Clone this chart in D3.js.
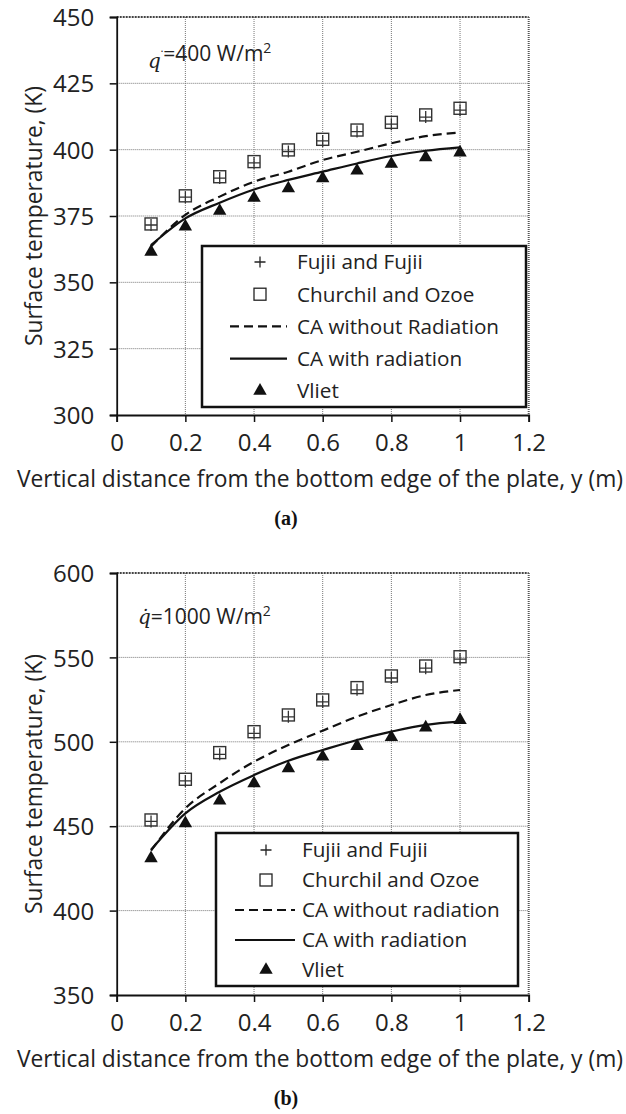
<!DOCTYPE html>
<html>
<head>
<meta charset="utf-8">
<script src="https://cdn.jsdelivr.net/npm/d3@7"></script>
<style>
body{margin:0;background:#fff;}
svg{display:block;font-family:"Open Sans",Lato,sans-serif;}
.grid line{stroke:#777;stroke-width:1;stroke-dasharray:1,1;}
</style>
</head>
<body>
<div id="canvas"></div>
<script>
// x positions along the plate (m)
var xPos = [0.1,0.2,0.3,0.4,0.5,0.6,0.7,0.8,0.9,1.0];
var xTicks = [0,0.2,0.4,0.6,0.8,1,1.2];

// panel (a), q = 400 W/m2
var yTicksA = [300,325,350,375,400,425,450];
var fujiiA = [371.6,382.1,389.3,395.0,399.3,403.3,406.8,409.6,412.3,414.9];
var churchilA = [372.0,382.6,389.8,395.5,399.9,403.9,407.4,410.3,413.1,415.6];
var caNoRadA = [363.5,375.4,382.3,387.9,391.7,396.1,399.2,402.4,405.1,406.5];
var caRadA = [364.0,374.1,380.0,385.0,388.6,391.7,394.8,397.6,399.6,400.9];
var vlietA = [361.5,371.0,376.9,381.8,385.4,389.2,392.1,394.6,397.1,398.9];
var legendA = ['Fujii and Fujii','Churchil and Ozoe','CA without Radiation','CA with radiation','Vliet'];

// panel (b), q = 1000 W/m2
var yTicksB = [350,400,450,500,550,600];
var fujiiB = [452.8,476.8,492.6,505.0,514.8,523.6,530.8,537.8,543.6,549.0];
var churchilB = [453.7,477.8,493.6,506.0,515.9,524.8,532.1,539.0,544.9,550.4];
var caNoRadB = [435.5,460.6,475.5,488.2,498.1,506.6,514.9,521.8,527.7,530.7];
var caRadB = [436.0,457.6,470.4,480.3,488.8,495.1,501.1,506.0,510.0,511.9];
var vlietB = [431.0,451.7,465.1,475.4,484.3,491.2,497.5,502.7,508.4,512.9];
var legendB = ['Fujii and Fujii','Churchil and Ozoe','CA without radiation','CA with radiation','Vliet'];

var W = 626, H = 1114;
var svg = d3.select('#canvas').append('svg')
    .attr('width',W)
    .attr('height',H);

var triPath = d3.symbol().type(d3.symbolTriangle).size(78)();
var crossPath = 'M-6,0H6M0,-6V6';
var tickFs = 24, titleFs = 22.8, legFs = 20.7;

function panel(o){
    var scaleX = d3.scaleLinear().domain([0,1.2]).range([o.l,o.r]);
    var scaleY = d3.scaleLinear().domain([o.yTicks[0],o.yTicks[o.yTicks.length-1]]).range([o.b,o.t]);
    var g = svg.append('g');

    // gridlines
    var grid = g.append('g').attr('class','grid');
    grid.selectAll('.gx').data(xTicks.slice(1,-1)).enter().append('line')
        .attr('x1',function(d){return scaleX(d);})
        .attr('x2',function(d){return scaleX(d);})
        .attr('y1',o.t).attr('y2',o.b);
    grid.selectAll('.gy').data(o.yTicks.slice(1,-1)).enter().append('line')
        .attr('x1',o.l).attr('x2',o.r)
        .attr('y1',function(d){return scaleY(d);})
        .attr('y2',function(d){return scaleY(d);});

    // top and right borders
    g.append('line').attr('x1',o.l).attr('x2',o.r).attr('y1',o.t).attr('y2',o.t)
        .attr('stroke','#444').attr('stroke-width',2).attr('stroke-dasharray','2,1');
    g.append('line').attr('x1',o.r).attr('x2',o.r).attr('y1',o.t).attr('y2',o.b)
        .attr('stroke','#555').attr('stroke-width',2).attr('stroke-dasharray','1,1');

    // axes
    var axisX = d3.axisBottom(scaleX).tickValues(xTicks).tickSize(7)
        .tickFormat(function(d){return d3.format('')(+d.toFixed(1));});
    var axisY = d3.axisLeft(scaleY).tickValues(o.yTicks).tickSize(7);
    var ax = g.append('g').attr('transform','translate(0,'+o.b+')').call(axisX);
    var ay = g.append('g').attr('transform','translate('+o.l+',0)').call(axisY);
    [ax,ay].forEach(function(a){
        a.select('.domain').attr('stroke','#111').attr('stroke-width',1.8);
        a.selectAll('.tick line').attr('stroke','#111').attr('stroke-width',1.5);
        a.selectAll('text').attr('font-size',tickFs).attr('font-family','"Open Sans"').attr('fill','#222');
    });
    ax.selectAll('.tick text').attr('y',36).attr('dy',null);
    ay.selectAll('.tick text').attr('x',-22.5).attr('dy','0.36em');

    // titles
    g.append('text')
        .attr('x',320).attr('y',o.b+72)
        .attr('text-anchor','middle').attr('font-size',titleFs).attr('fill','#222')
        .text('Vertical distance from the bottom edge of the plate, y (m)');
    g.append('text')
        .attr('transform','translate(42,'+((o.t+o.b)/2)+') rotate(-90)')
        .attr('text-anchor','middle').attr('font-size',titleFs).attr('fill','#222')
        .text('Surface temperature, (K)');
    g.append('text')
        .attr('x',286).attr('y',o.b+110)
        .attr('text-anchor','middle').attr('font-size',20).attr('font-weight','bold')
        .attr('font-family','"Liberation Serif",serif').attr('fill','#111')
        .text(o.tag);

    // heat flux note
    var note = g.append('text').attr('x',o.noteX).attr('y',o.t+51)
        .attr('font-size',21).attr('fill','#222');
    if(o.dotAbove){
        note.append('tspan').attr('font-family','"DejaVu Serif",serif')
            .attr('font-style','italic').attr('font-size',20).text('q\u0307');
    } else {
        note.append('tspan').attr('font-family','"DejaVu Serif",serif')
            .attr('font-style','italic').attr('font-size',20).text('q');
        note.append('tspan').attr('dy',-7).attr('font-size',14).text('\u02D9');
        note.append('tspan').attr('dy',7).text('');
    }
    note.append('tspan').text('=' + o.flux + ' W/m');
    note.append('tspan').attr('dy',-8).attr('font-size',14).text('2');

    // lines
    var line = d3.line()
        .x(function(d,i){return scaleX(xPos[i]);})
        .y(function(d){return scaleY(d);})
        .curve(d3.curveMonotoneX);
    g.append('path').datum(o.caNoRad).attr('d',line)
        .attr('fill','none').attr('stroke','#111').attr('stroke-width',2.2)
        .attr('stroke-dasharray','9,5');
    g.append('path').datum(o.caRad).attr('d',line)
        .attr('fill','none').attr('stroke','#111').attr('stroke-width',2.2);

    // markers
    g.selectAll('.sq').data(o.churchil).enter().append('rect')
        .attr('x',function(d,i){return scaleX(xPos[i])-6;})
        .attr('y',function(d){return scaleY(d)-6;})
        .attr('width',12).attr('height',12)
        .attr('fill','none').attr('stroke','#333').attr('stroke-width',1.4);
    g.selectAll('.cr').data(o.fujii).enter().append('path')
        .attr('transform',function(d,i){return 'translate('+scaleX(xPos[i])+','+scaleY(d)+')';})
        .attr('d',crossPath).attr('stroke','#333').attr('stroke-width',1.3);
    g.selectAll('.tri').data(o.vliet).enter().append('path')
        .attr('transform',function(d,i){return 'translate('+scaleX(xPos[i])+','+scaleY(d)+')';})
        .attr('d',triPath).attr('fill','#111');

    // legend
    var lg = o.leg;
    g.append('rect').attr('x',lg.x0).attr('y',lg.y0)
        .attr('width',lg.x1-lg.x0).attr('height',lg.y1-lg.y0)
        .attr('fill','#fff').attr('stroke','#111').attr('stroke-width',2.5);
    o.labels.forEach(function(lab,i){
        var yy = lg.y0 + lg.first + i*lg.step;
        if(i==0){
            g.append('path').attr('transform','translate('+lg.sx+','+yy+')')
                .attr('d','M-5.5,0H5.5M0,-5.5V5.5').attr('stroke','#222').attr('stroke-width',1.3);
        } else if(i==1){
            g.append('rect').attr('x',lg.sx-6).attr('y',yy-6).attr('width',12).attr('height',12)
                .attr('fill','none').attr('stroke','#222').attr('stroke-width',1.3);
        } else if(i==2 || i==3){
            g.append('line').attr('x1',lg.lx0).attr('x2',lg.lx1).attr('y1',yy).attr('y2',yy)
                .attr('stroke','#111').attr('stroke-width',2.2)
                .attr('stroke-dasharray',i==2 ? '9,5' : null);
        } else {
            g.append('path').attr('transform','translate('+lg.sx+','+yy+')')
                .attr('d',triPath).attr('fill','#111');
        }
        g.append('text').attr('x',lg.tx).attr('y',yy).attr('dy','0.36em')
            .attr('font-size',legFs).attr('fill','#222').text(lab);
    });
}

panel({
    l:116.7, r:528.7, t:17, b:415,
    yTicks:yTicksA, fujii:fujiiA, churchil:churchilA, caNoRad:caNoRadA, caRad:caRadA, vliet:vlietA,
    labels:legendA, tag:'(a)', flux:'400', noteX:148, dotAbove:false,
    leg:{x0:202,x1:526,y0:246,y1:407,first:16,step:32.2,sx:260,lx0:230,lx1:287,tx:297}
});
panel({
    l:116.7, r:528.7, t:573, b:995,
    yTicks:yTicksB, fujii:fujiiB, churchil:churchilB, caNoRad:caNoRadB, caRad:caRadB, vliet:vlietB,
    labels:legendB, tag:'(b)', flux:'1000', noteX:138, dotAbove:true,
    leg:{x0:216,x1:518,y0:833,y1:986,first:17,step:30,sx:266,lx0:235,lx1:295,tx:302}
});
</script>
</body>
</html>
